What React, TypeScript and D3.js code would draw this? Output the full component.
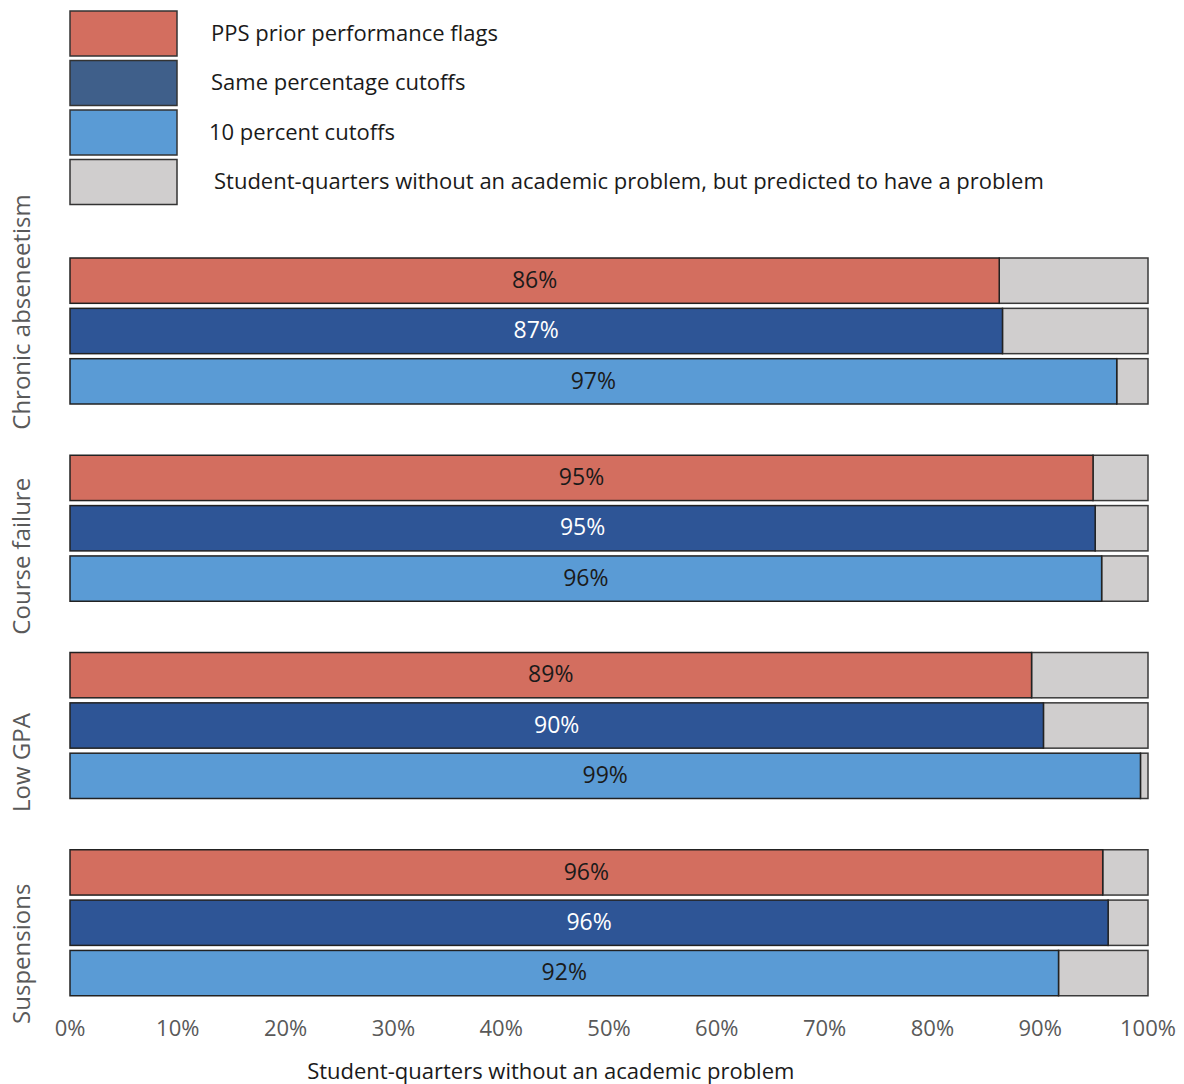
import React from "react";
import * as d3 from "d3";

const WIDTH = 1184;
const HEIGHT = 1084;
const MARGIN = { top: 258, right: 36, bottom: 89, left: 70 };
const FONT = "'Open Sans', 'Noto Sans', sans-serif";

// data
const categories = ["Chronic abseneetism", "Course failure", "Low GPA", "Suspensions"];
const seriesNames = [
  "PPS prior performance flags",
  "Same percentage cutoffs",
  "10 percent cutoffs",
];
const remainderName = "Student-quarters without an academic problem, but predicted to have a problem";
const ppsValues = [0.862, 0.949, 0.892, 0.958];
const sameValues = [0.865, 0.951, 0.903, 0.963];
const tenValues = [0.971, 0.957, 0.993, 0.917];
const ppsLabels = ["86%", "95%", "89%", "96%"];
const sameLabels = ["87%", "95%", "90%", "96%"];
const tenLabels = ["97%", "96%", "99%", "92%"];
const xTicks = [0, 0.1, 0.2, 0.3, 0.4, 0.5, 0.6, 0.7, 0.8, 0.9, 1];
const xTitle = "Student-quarters without an academic problem";

const barColors = ["#D36E5F", "#2E5596", "#5A9BD5"];
const legendColors = ["#D36E5F", "#3F5F8A", "#5A9BD5", "#D0CECE"];
const labelColors = ["#1a1a1a", "#ffffff", "#1a1a1a"];
const restColor = "#D0CECE";
const labelShift = [-19, 28, 37, 31];

const App = () => {
  const boundsWidth = WIDTH - MARGIN.left - MARGIN.right;
  const boundsHeight = HEIGHT - MARGIN.top - MARGIN.bottom;

  const xScale = d3.scaleLinear().domain([0, 1]).range([0, boundsWidth]);
  const groupScale = d3
    .scaleBand()
    .domain(categories)
    .range([0, boundsHeight + 52])
    .paddingInner(0)
    .paddingOuter(0);
  const innerScale = d3
    .scaleBand()
    .domain(seriesNames)
    .range([0, 146])
    .paddingInner(0.1);

  const seriesValues = [ppsValues, sameValues, tenValues];
  const seriesLabels = [ppsLabels, sameLabels, tenLabels];

  const bars = categories.map((cat, ci) => {
    const gy = groupScale(cat) ?? 0;
    return (
      <g key={cat} transform={`translate(0,${gy})`}>
        {seriesNames.map((s, si) => {
          const y = innerScale(s) ?? 0;
          const h = innerScale.bandwidth();
          const v = seriesValues[si][ci];
          return (
            <g key={s}>
              <rect
                x={xScale(v)}
                y={y}
                width={xScale(1) - xScale(v)}
                height={h}
                fill={restColor}
                stroke="#3a3a3a"
                strokeWidth={1.5}
              />
              <rect
                x={xScale(0)}
                y={y}
                width={xScale(v) - xScale(0)}
                height={h}
                fill={barColors[si]}
                stroke="#222"
                strokeWidth={1.5}
              />
              <text
                x={xScale(v / 2)}
                y={y + h / 2 + 1}
                textAnchor="middle"
                dominantBaseline="middle"
                fontSize={23}
                fill={labelColors[si]}
              >
                {seriesLabels[si][ci]}
              </text>
            </g>
          );
        })}
      </g>
    );
  });

  const groupLabels = categories.map((cat, ci) => {
    const cy = (groupScale(cat) ?? 0) + 73 + labelShift[ci];
    return (
      <text
        key={cat}
        transform={`translate(${-46},${cy}) rotate(-90)`}
        textAnchor="middle"
        dominantBaseline="middle"
        fontSize={24}
        fill="#595959"
      >
        {cat}
      </text>
    );
  });

  const ticks = xTicks.map((t) => (
    <text
      key={t}
      x={xScale(t)}
      y={boundsHeight + 35}
      textAnchor="middle"
      dominantBaseline="middle"
      fontSize={22}
      fill="#595959"
    >
      {d3.format(".0%")(t)}
    </text>
  ));

  const legendItems = [...seriesNames, remainderName];
  const legendX = [211, 211, 209, 214];

  return (
    <svg
      width={WIDTH}
      height={HEIGHT}
      style={{ position: "absolute", left: 0, top: 0, fontFamily: FONT }}
    >
      <rect width={WIDTH} height={HEIGHT} fill="#fff" />
      <g>
        {legendItems.map((name, i) => (
          <g key={name} transform={`translate(0,${11 + i * 49.5})`}>
            <rect
              x={70}
              y={0}
              width={107}
              height={45}
              fill={legendColors[i]}
              stroke="#333"
              strokeWidth={1.5}
            />
            <text
              x={legendX[i]}
              y={24}
              dominantBaseline="middle"
              fontSize={22}
              fill="#1a1a1a"
            >
              {name}
            </text>
          </g>
        ))}
      </g>
      <g transform={`translate(${MARGIN.left},${MARGIN.top})`}>
        {bars}
        {groupLabels}
        {ticks}
        <text
          x={xScale(0.446)}
          y={boundsHeight + 78}
          textAnchor="middle"
          dominantBaseline="middle"
          fontSize={22}
          fill="#1a1a1a"
        >
          {xTitle}
        </text>
      </g>
    </svg>
  );
};

export default App;
